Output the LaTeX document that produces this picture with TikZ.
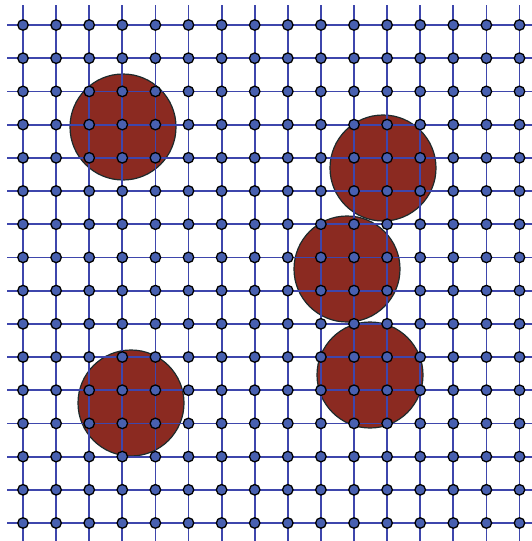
\documentclass[tikz,border=0pt]{standalone}
\usetikzlibrary{shapes.geometric}

\definecolor{blobred}{RGB}{139,42,33}
\definecolor{blobedge}{RGB}{28,42,44}
\definecolor{gridblue}{RGB}{62,70,172}
\definecolor{dotblue}{RGB}{72,96,176}

\begin{document}
\begin{tikzpicture}[
    x=1pt, y=-1pt,
    blob/.style={circle, draw=blobedge, fill=blobred, line width=1.2pt,
                 minimum size=106pt, inner sep=0pt},
    gridline/.style={draw=gridblue, line width=1.8pt},
    site/.style={circle, draw=black, fill=dotblue, line width=1.3pt,
                 minimum size=10.5pt, inner sep=0pt},
]
\useasboundingbox (0,0) rectangle (532,541);

% Particles
\node[blob] (blob1) at (123,127) {};
\node[blob] (blob2) at (383,168) {};
\node[blob] (blob3) at (347,269) {};
\node[blob] (blob4) at (370,375) {};
\node[blob] (blob5) at (131,403) {};

% Lattice ends
\foreach \i in {0,...,15} {
    \coordinate (top-\i) at ({23+33.1*\i},5);
    \coordinate (bot-\i) at ({23+33.1*\i},541);
    \coordinate (lft-\i) at (7,{25+33.2*\i});
    \coordinate (rgt-\i) at (532,{25+33.2*\i});
}

% Lattice lines
\foreach \i in {0,...,15} {
    \draw[gridline] (top-\i) -- (bot-\i);
    \draw[gridline] (lft-\i) -- (rgt-\i);
}

% Lattice sites
\foreach \i in {0,...,15} {
    \foreach \j in {0,...,15} {
        \node[site] (site-\i-\j) at ({23+33.1*\i},{25+33.2*\j}) {};
    }
}

\end{tikzpicture}
\end{document}
